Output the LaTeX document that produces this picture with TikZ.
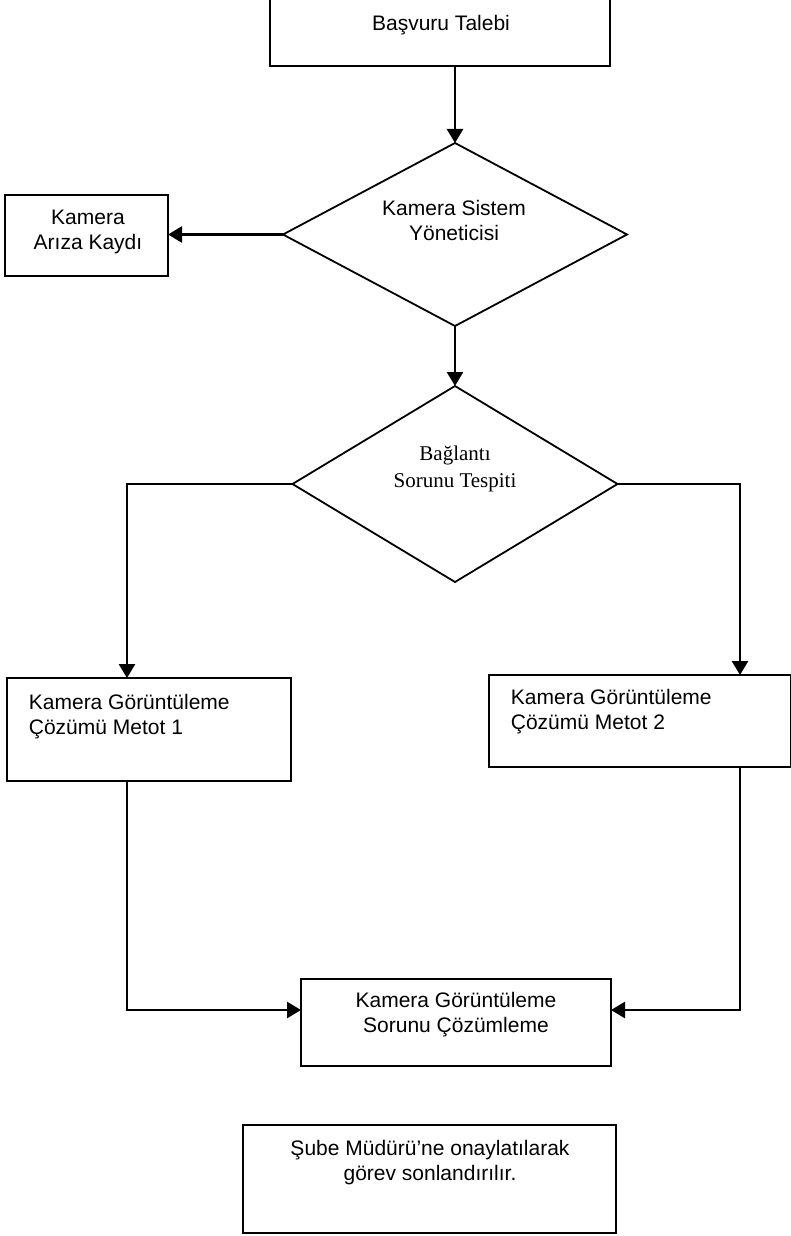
\documentclass[tikz,border=0pt]{standalone}
\usepackage{fontspec}
\setmainfont{Liberation Sans}
\newfontfamily\serifyazi{Liberation Serif}
\usetikzlibrary{shapes.geometric,arrows.meta,calc}
\tikzset{every picture/.style={line width=1.8pt}}
\tikzset{
box/.style={draw, rectangle, inner sep=0pt, outer sep=0pt, line width=1.8pt},
decision/.style={draw, diamond, inner sep=0pt, outer sep=0pt, line width=1.8pt},
lbl/.style={inner sep=0pt, font=\fontsize{21pt}{25pt}\selectfont},
conn/.style={line width=2.6pt, -{Triangle[length=14pt,width=16pt]}}}

\begin{document}
\begin{tikzpicture}[x=1pt,y=1pt,yscale=-1,xscale=1]
\useasboundingbox (0,0) rectangle (790,1236);

%Shape: Rectangle [id:basvuru]
\node[box, minimum width=340pt, minimum height=70pt] (b1) at (440,31) {};
%Shape: Diamond [id:sistem]
\node[decision, minimum width=344pt, minimum height=183pt] (d1) at (455,234.5) {};
%Shape: Rectangle [id:ariza]
\node[box, minimum width=163pt, minimum height=81pt] (b2) at (86.5,235.5) {};
%Shape: Diamond [id:baglanti]
\node[decision, minimum width=325pt, minimum height=196pt] (d2) at (455,484) {};
%Shape: Rectangle [id:metot1]
\node[box, minimum width=284pt, minimum height=103pt] (b3) at (149,729.5) {};
%Shape: Rectangle [id:metot2]
\node[box, minimum width=302pt, minimum height=92pt] (b4) at (640,721) {};
%Shape: Rectangle [id:cozum]
\node[box, minimum width=310pt, minimum height=87pt] (b5) at (456,1022.5) {};
%Shape: Rectangle [id:sonuc]
\node[box, minimum width=373pt, minimum height=108pt] (b6) at (429.5,1179) {};

%Straight Lines
\draw[conn] (b1.south -| d1.north) -- (d1.north);
\draw[conn] (d1.west) -- (d1.west -| b2.east);
\draw[conn] (d1.south) -- (d2.north);
\draw[conn] (d2.west) -| ($(b3.north west)+(120,0)$);
\draw[conn] (d2.east) -| ($(b4.north west)+(251,0)$);
\draw[conn] ($(b3.south west)+(120,0)$) |- ($(b5.north west)+(0,31)$);
\draw[conn] ($(b4.south west)+(251,0)$) |- ($(b5.north east)+(0,31)$);

% Text Node
\node[lbl] (t1) at (441,25) {Başvuru Talebi};
% Text Node
\node[lbl, align=center] (t2) at (454,220.5) {Kamera Sistem\\Yöneticisi};
% Text Node
\node[lbl, align=center] (t3) at (88,232) {Kamera\\Arıza Kaydı};
% Text Node
\node[lbl, font=\serifyazi\fontsize{21pt}{27pt}\selectfont, align=center] (t4) at (455,468.5) {Bağlantı\\Sorunu Tespiti};
% Text Node
\node[lbl, anchor=west, align=left] (t5) at (28,716.5) {Kamera Görüntüleme\\Çözümü Metot 1};
% Text Node
\node[lbl, anchor=west, align=left] (t6) at (510,712) {Kamera Görüntüleme\\Çözümü Metot 2};
% Text Node
\node[lbl, align=center] (t7) at (456,1015) {Kamera Görüntüleme\\Sorunu Çözümleme};
% Text Node
\node[lbl, align=center] (t8) at (430,1162.5) {Şube Müdürü’ne onaylatılarak\\görev sonlandırılır.};
\end{tikzpicture}
\end{document}
